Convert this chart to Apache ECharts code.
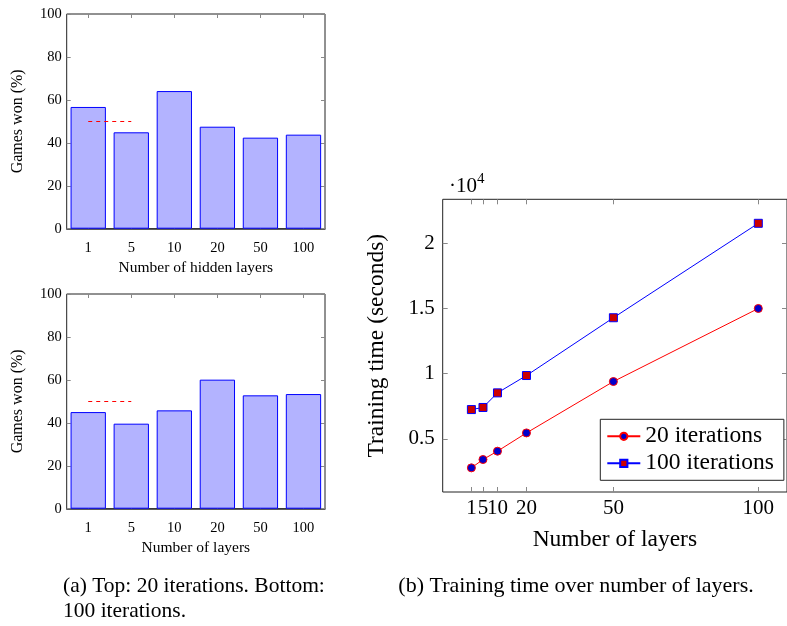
<!DOCTYPE html>
<html>
<head>
<meta charset="utf-8">
<script src="https://cdn.jsdelivr.net/npm/echarts@6/dist/echarts.min.js"></script>
<style>html,body{margin:0;padding:0;background:#fff}#c{width:787px;height:626px}</style>
</head>
<body>
<div id="c"></div>
<script>
// ---- data ----
const barCategories = ['1', '5', '10', '20', '50', '100'];
const wonHidden20 = [56.7, 44.9, 64.1, 47.5, 42.4, 43.8];
const wonLayers100 = [45.0, 39.6, 45.8, 60.1, 52.8, 53.4];
const baselineWon = 50;

const layerCounts = [1, 5, 10, 20, 50, 100];
const time20 = [2780, 3420, 4060, 5460, 9400, 15000];
const time100 = [7250, 7410, 8530, 9860, 14290, 21530];
const timeTicks = [5000, 10000, 15000, 20000];

const FONT = 'Liberation Serif';
const chart = echarts.init(document.getElementById('c'));

function barGrid(top) {
  return { left: 66.7, top: top, width: 258.3, height: 214.7, show: true, borderColor: '#222', borderWidth: 1, containLabel: false };
}
function barX(grid, name, isTop) {
  return {
    type: 'category', gridIndex: grid, data: barCategories, position: isTop ? 'top' : 'bottom',
    boundaryGap: true,
    name: isTop ? '' : name, nameLocation: 'middle', nameGap: 31,
    nameTextStyle: { fontFamily: FONT, fontSize: 15.5, color: '#000' },
    axisLine: { show: !isTop, onZero: false, lineStyle: { color: '#333', width: 1.5 } },
    axisTick: { show: true, inside: true, alignWithLabel: true, length: 4, lineStyle: { color: '#888' } },
    axisLabel: { show: !isTop, fontFamily: FONT, fontSize: 14.5, color: '#000', margin: 12 },
    splitLine: { show: false }
  };
}
function barY(grid, isRight) {
  return {
    type: 'value', gridIndex: grid, min: 0, max: 100, interval: 20, position: isRight ? 'right' : 'left',
    name: isRight ? '' : 'Games won (%)', nameLocation: 'middle', nameGap: 40.5,
    nameTextStyle: { fontFamily: FONT, fontSize: 16, color: '#000' },
    axisLine: { show: false, onZero: false },
    axisTick: { show: true, inside: true, length: 4, lineStyle: { color: '#888' } },
    axisLabel: { show: !isRight, fontFamily: FONT, fontSize: 14.5, color: '#000', margin: 5 },
    splitLine: { show: false }
  };
}
function barSeries(xi, yi, data) {
  return {
    type: 'bar', xAxisIndex: xi, yAxisIndex: yi, data: data, barCategoryGap: '18%',
    itemStyle: { color: '#b3b3ff', borderColor: '#0000ff', borderWidth: 1 },
    silent: true,
    markLine: {
      silent: true, symbol: 'none', label: { show: false },
      lineStyle: { color: '#ff0000', type: [4, 4], width: 1 },
      data: [[{ coord: [barCategories[0], baselineWon] }, { coord: [barCategories[1], baselineWon] }]]
    }
  };
}

const lineAxisLabel = { fontFamily: FONT, fontSize: 21, color: '#000' };

const option = {
  animation: false,
  backgroundColor: '#fff',
  grid: [
    barGrid(14),
    barGrid(294),
    { left: 442.7, top: 199.3, width: 354.1, height: 292.7, show: true, borderColor: '#222', borderWidth: 1, containLabel: false }
  ],
  xAxis: [
    barX(0, 'Number of hidden layers', false),
    barX(0, '', true),
    barX(1, 'Number of layers', false),
    barX(1, '', true),
    {
      type: 'value', gridIndex: 2, min: -8.9, max: 109.9, position: 'bottom',
      name: 'Number of layers', nameLocation: 'middle', nameGap: 36,
      nameTextStyle: { fontFamily: FONT, fontSize: 23.5, color: '#000' },
      axisLine: { show: false, onZero: false },
      axisTick: { show: true, inside: true, length: 5, customValues: layerCounts, lineStyle: { color: '#888' } },
      axisLabel: Object.assign({ customValues: layerCounts, margin: 6, hideOverlap: false }, lineAxisLabel),
      splitLine: { show: false }
    },
    {
      type: 'value', gridIndex: 2, min: -8.9, max: 109.9, position: 'top',
      axisLine: { show: false, onZero: false },
      axisTick: { show: true, inside: true, length: 5, customValues: layerCounts, lineStyle: { color: '#888' } },
      axisLabel: { show: false },
      splitLine: { show: false }
    }
  ],
  yAxis: [
    barY(0, false), barY(0, true), barY(1, false), barY(1, true),
    {
      type: 'value', gridIndex: 2, min: 930, max: 23370, position: 'left',
      name: 'Training time (seconds)', nameLocation: 'middle', nameGap: 54,
      nameTextStyle: { fontFamily: FONT, fontSize: 23.5, color: '#000' },
      axisLine: { show: false, onZero: false },
      axisTick: { show: true, inside: true, length: 5, customValues: timeTicks, lineStyle: { color: '#888' } },
      axisLabel: Object.assign({ customValues: timeTicks, margin: 8, formatter: v => String(v / 10000) }, lineAxisLabel),
      splitLine: { show: false }
    },
    {
      type: 'value', gridIndex: 2, min: 930, max: 23370, position: 'right',
      axisLine: { show: false, onZero: false },
      axisTick: { show: true, inside: true, length: 5, customValues: timeTicks, lineStyle: { color: '#888' } },
      axisLabel: { show: false },
      splitLine: { show: false }
    }
  ],
  legend: {
    left: 600.3, top: 419.3, orient: 'vertical',
    padding: [5, 10, 5, 6], itemGap: 3, itemWidth: 33, itemHeight: 9,
    borderColor: '#222', borderWidth: 1, backgroundColor: '#fff',
    textStyle: { fontFamily: FONT, fontSize: 23.5, color: '#000' },
    data: ['20 iterations', '100 iterations']
  },
  series: [
    barSeries(0, 0, wonHidden20),
    barSeries(2, 2, wonLayers100),
    {
      name: '20 iterations', type: 'line', xAxisIndex: 4, yAxisIndex: 4,
      data: layerCounts.map((x, i) => [x, time20[i]]),
      symbol: 'circle', symbolSize: 8,
      lineStyle: { color: '#ff0000', width: 1 },
      itemStyle: { color: '#0000cc', borderColor: '#ff0000', borderWidth: 1 }
    },
    {
      name: '100 iterations', type: 'line', xAxisIndex: 4, yAxisIndex: 4,
      data: layerCounts.map((x, i) => [x, time100[i]]),
      symbol: 'rect', symbolSize: 8,
      lineStyle: { color: '#0000ff', width: 1 },
      itemStyle: { color: '#cc0000', borderColor: '#0000ff', borderWidth: 1 }
    }
  ],
  graphic: [
    {
      type: 'text', left: 449, top: 172,
      style: {
        text: '{a|·10}{b|4}',
        rich: {
          a: { fontFamily: FONT, fontSize: 21, fill: '#000', verticalAlign: 'bottom' },
          b: { fontFamily: FONT, fontSize: 15, fill: '#000', verticalAlign: 'top', padding: [0, 0, 10, 0] }
        }
      }
    },
    { type: 'text', left: 63, top: 575, style: { text: '(a) Top: 20 iterations. Bottom:', fontFamily: FONT, fontSize: 21.5, fill: '#000' } },
    { type: 'text', left: 63, top: 600, style: { text: '100 iterations.', fontFamily: FONT, fontSize: 21.5, fill: '#000' } },
    { type: 'text', x: 576, y: 575, style: { text: '(b) Training time over number of layers.', textAlign: 'center', fontFamily: FONT, fontSize: 22, fill: '#000' } }
  ]
};
chart.setOption(option);
</script>
</body>
</html>
